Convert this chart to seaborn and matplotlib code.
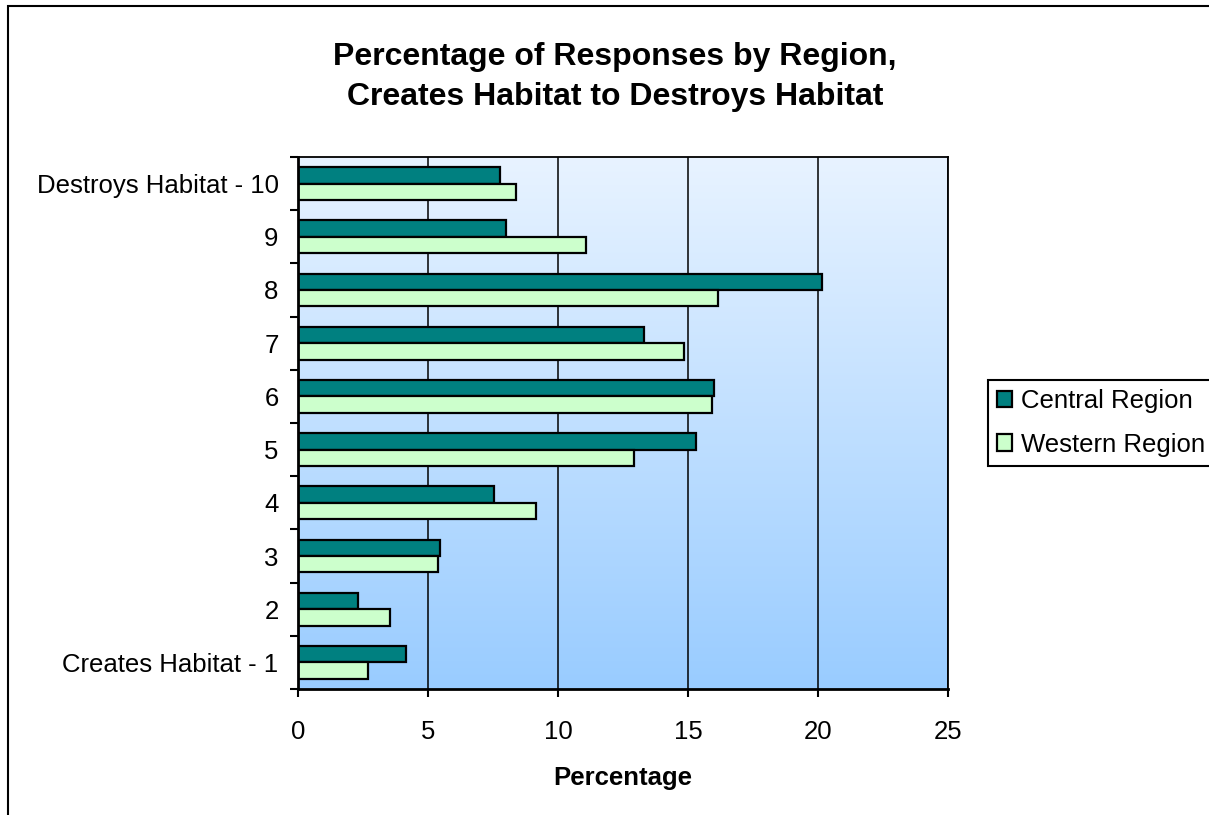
import numpy as np
import pandas as pd
import matplotlib
matplotlib.use("Agg")
import matplotlib.pyplot as plt
from matplotlib.colors import LinearSegmentedColormap
from matplotlib.patches import Rectangle
import seaborn as sns

# Values (percent of responses)
categories = ["Destroys Habitat - 10", "9", "8", "7", "6", "5", "4", "3", "2", "Creates Habitat - 1"]
central = [7.77, 8.0, 20.15, 13.31, 16.0, 15.31, 7.54, 5.46, 2.31, 4.15]
western = [8.38, 11.08, 16.15, 14.85, 15.92, 12.92, 9.15, 5.38, 3.54, 2.69]
regions = ["Central Region", "Western Region"]
x_ticks = [0, 5, 10, 15, 20, 25]

df = pd.DataFrame({
    "rating": categories * 2,
    "pct": central + western,
    "region": [regions[0]] * len(categories) + [regions[1]] * len(categories),
})

sns.set_theme(style="white")
plt.rcParams["font.family"] = ["Liberation Sans", "DejaVu Sans"]
plt.rcParams["text.color"] = "black"
plt.rcParams["xtick.color"] = "black"
plt.rcParams["ytick.color"] = "black"
plt.rcParams["axes.labelcolor"] = "black"

fig = plt.figure(figsize=(12.09, 8.15), dpi=100)
ax = fig.add_axes([298 / 1209, 1 - 689 / 815, 650 / 1209, 532 / 815])

# gradient background of the plot area
grad = np.linspace(0, 1, 256).reshape(-1, 1)
cmap = LinearSegmentedColormap.from_list("bg", ["#e8f3ff", "#99ccff"])
ax.imshow(grad, extent=[0, 25, 9.5, -0.5], aspect="auto", cmap=cmap, zorder=-2)

sns.barplot(data=df, y="rating", x="pct", hue="region", order=categories,
            hue_order=regions, palette=["#008080", "#ccffcc"], saturation=1,
            width=0.62, edgecolor="black", linewidth=1.6, orient="h", ax=ax)

ax.set_xlim(0, 25)
ax.set_ylim(9.5, -0.5)
ax.set_axisbelow(True)
ax.grid(axis="x", color="black", linewidth=1.1)
ax.grid(axis="y", visible=False)

ax.set_xticks(x_ticks)
ax.set_xticklabels([str(t) for t in x_ticks], fontsize=18.5)
ax.set_yticks(np.arange(-0.5, 10, 1))
ax.set_yticklabels([])
ax.set_yticks(np.arange(10), minor=True)
ax.set_yticklabels(categories, minor=True, fontsize=18.5)
ax.tick_params(axis="y", which="major", direction="out", length=6, width=1.5, color="black", left=True)
ax.tick_params(axis="y", which="minor", length=0, pad=14)
ax.tick_params(axis="x", direction="out", length=6, width=1.5, color="black", bottom=True, pad=16)

for side in ["top", "right", "left", "bottom"]:
    ax.spines[side].set_color("black")
    ax.spines[side].set_linewidth(1.3)
ax.spines["left"].set_linewidth(2)
ax.spines["bottom"].set_linewidth(2)

ax.set_ylabel("")
ax.set_xlabel("Percentage", fontsize=18.5, fontweight="bold", labelpad=16)

fig.text(615 / 1209, 1 - 77 / 815,
         "Percentage of Responses by Region,\nCreates Habitat to Destroys Habitat",
         ha="center", va="center", fontsize=23, fontweight="bold", linespacing=1.4)

handles, labels = ax.get_legend_handles_labels()
ax.legend(handles, labels, loc="center left", bbox_to_anchor=(988 / 1209, 1 - 423 / 815),
          bbox_transform=fig.transFigure, fontsize=18.5, frameon=True, fancybox=False,
          edgecolor="black", framealpha=1, handlelength=0.6, handleheight=0.6,
          handletextpad=0.35, borderpad=0.35, labelspacing=0.75, borderaxespad=0)
ax.get_legend().get_frame().set_linewidth(1.5)

# outer chart border (cut by the image edge on the right and bottom)
fig.patches.append(Rectangle((8 / 1209, -0.1), 1.2, 1 - 6 / 815 + 0.1,
                             transform=fig.transFigure, fill=False,
                             edgecolor="black", linewidth=1.5))

fig.savefig("out.png", dpi=100)
